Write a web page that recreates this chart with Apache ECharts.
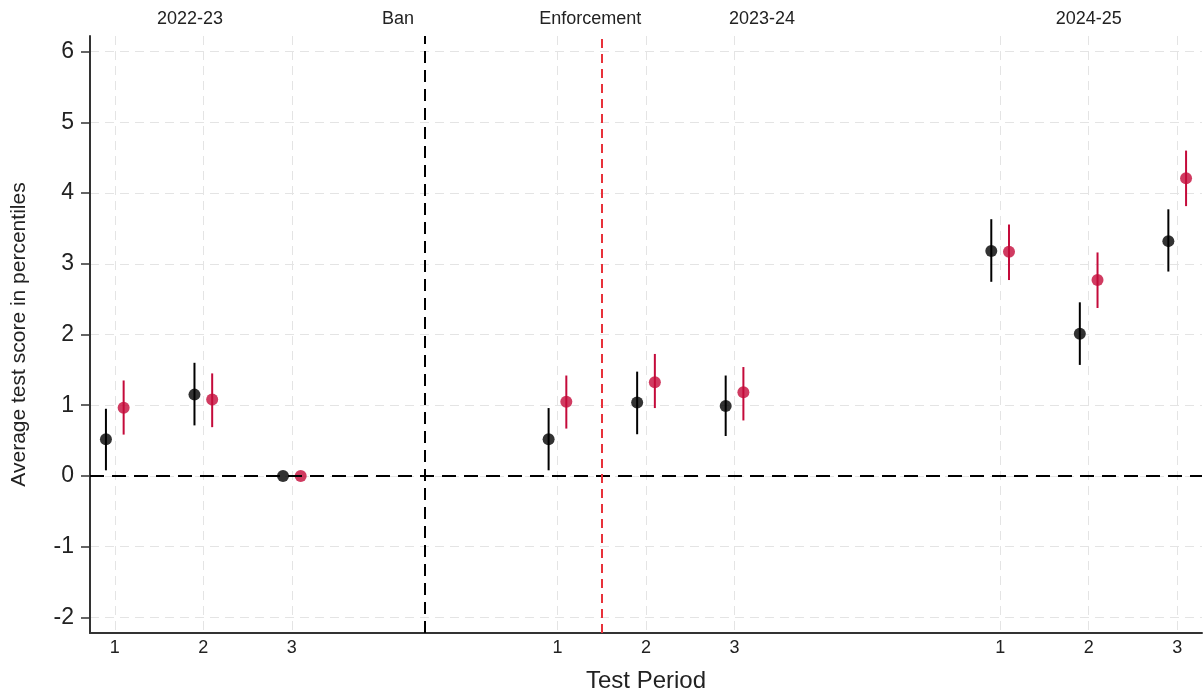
<!DOCTYPE html>
<html>
<head>
<meta charset="utf-8">
<script src="https://cdn.jsdelivr.net/npm/echarts@6/dist/echarts.min.js"></script>
<style>
  html, body { margin: 0; padding: 0; background: #fff; }
  #chart { width: 1203px; height: 698px; }
</style>
</head>
<body>
<div id="chart"></div>
<script>
// Test-period slots on the x axis (three periods per school year)
const periodPos = [1, 2, 3, 6, 7, 8, 11, 12, 13];
const periodLabels = ['1', '2', '3', '1', '2', '3', '1', '2', '3'];

// Black estimates with lower / upper confidence bounds
const blackEst = [0.52, 1.15, 0.00, 0.52, 1.04, 0.99, 3.18, 2.01, 3.32];
const blackLo  = [0.08, 0.715, null, 0.08, 0.59, 0.565, 2.745, 1.57, 2.89];
const blackHi  = [0.95, 1.60, null, 0.96, 1.475, 1.42, 3.63, 2.455, 3.77];

// Red estimates with lower / upper confidence bounds
const redEst = [0.965, 1.08, 0.00, 1.05, 1.325, 1.185, 3.17, 2.77, 4.21];
const redLo  = [0.585, 0.69, null, 0.67, 0.96, 0.785, 2.77, 2.375, 3.815];
const redHi  = [1.35, 1.45, null, 1.42, 1.725, 1.54, 3.555, 3.16, 4.60];

// Y axis ticks
const yTicks = [-2, -1, 0, 1, 2, 3, 4, 5, 6];

// Policy events: ban and enforcement
const banPos = 4.5;
const enforcementPos = 6.5;

// Labels along the top edge
const topLabelPos = [1.85, 4.2, 6.37, 8.31, 12.0];
const topLabelText = ['2022-23', 'Ban', 'Enforcement', '2023-24', '2024-25'];

const BLACK = '#000000';
const RED = '#C40A3A';
const FONT = '"Liberation Sans", Arial, Helvetica, sans-serif';
const SHIFT = 0.1;

function lookup(positions, labels) {
  return function (v) {
    for (let i = 0; i < positions.length; i++) {
      if (Math.abs(positions[i] - v) < 1e-6) return labels[i];
    }
    return '';
  };
}

function points(est, dx) {
  return est.map((v, i) => [periodPos[i] + dx, v]);
}

function bars(lo, hi, dx) {
  const out = [];
  lo.forEach((l, i) => {
    if (l !== null && hi[i] !== null) out.push([periodPos[i] + dx, l, hi[i]]);
  });
  return out;
}

function barRenderer(color) {
  return function (params, api) {
    const x = api.value(0);
    const a = api.coord([x, api.value(1)]);
    const b = api.coord([x, api.value(2)]);
    return {
      type: 'line',
      shape: { x1: a[0], y1: a[1], x2: b[0], y2: b[1] },
      style: { stroke: color, lineWidth: 2 }
    };
  };
}

const gridLine = { show: true, lineStyle: { color: '#e4e4e4', width: 1, type: [9, 6] } };

const chart = echarts.init(document.getElementById('chart'), null, { renderer: 'canvas' });

chart.setOption({
  animation: false,
  backgroundColor: '#ffffff',
  textStyle: { fontFamily: FONT },
  grid: { left: 90, right: 1, top: 36, bottom: 63, containLabel: false },
  xAxis: [
    {
      type: 'value',
      position: 'bottom',
      min: 0.72,
      max: 13.28,
      name: 'Test Period',
      nameLocation: 'middle',
      nameGap: 36,
      nameTextStyle: { fontSize: 24, color: '#222', fontFamily: FONT },
      axisLine: { show: true, onZero: false, lineStyle: { color: '#333', width: 2 } },
      axisTick: { show: false, customValues: periodPos },
      axisLabel: {
        customValues: periodPos,
        formatter: lookup(periodPos, periodLabels),
        fontSize: 18, color: '#222', margin: 6, fontFamily: FONT
      },
      splitLine: gridLine
    },
    {
      type: 'value',
      position: 'top',
      min: 0.72,
      max: 13.28,
      axisLine: { show: false, onZero: false },
      axisTick: { show: false, customValues: topLabelPos },
      axisLabel: {
        customValues: topLabelPos,
        formatter: lookup(topLabelPos, topLabelText),
        fontSize: 18, color: '#222', margin: 8, fontFamily: FONT
      },
      splitLine: { show: false }
    }
  ],
  yAxis: {
    type: 'value',
    min: -2.22,
    max: 6.22,
    name: 'Average test score in percentiles',
    nameLocation: 'middle',
    nameGap: 60,
    nameTextStyle: { fontSize: 21, color: '#222', fontFamily: FONT },
    axisLine: { show: true, onZero: false, lineStyle: { color: '#333', width: 2 } },
    axisTick: { show: true, customValues: yTicks, length: 9, lineStyle: { color: '#333', width: 1.5 } },
    axisLabel: {
      customValues: yTicks,
      fontSize: 23, color: '#222', margin: 16, fontFamily: FONT
    },
    splitLine: gridLine
  },
  series: [
    {
      type: 'custom',
      name: 'black-ci',
      renderItem: barRenderer(BLACK),
      encode: { x: 0, y: [1, 2] },
      data: bars(blackLo, blackHi, -SHIFT),
      z: 3,
      markLine: {
        silent: true,
        symbol: 'none',
        label: { show: false },
        data: [
          { yAxis: 0, lineStyle: { color: '#000', width: 2, type: [14, 8] } },
          { xAxis: banPos, lineStyle: { color: '#000', width: 2, type: [12, 7] } },
          { xAxis: enforcementPos, lineStyle: { color: '#E8313A', width: 2, type: [9, 6] } }
        ]
      }
    },
    {
      type: 'custom',
      name: 'red-ci',
      renderItem: barRenderer(RED),
      encode: { x: 0, y: [1, 2] },
      data: bars(redLo, redHi, SHIFT),
      z: 3
    },
    {
      type: 'scatter',
      name: 'black',
      data: points(blackEst, -SHIFT),
      symbol: 'circle',
      symbolSize: 12,
      itemStyle: { color: BLACK },
      z: 4
    },
    {
      type: 'scatter',
      name: 'red',
      data: points(redEst, SHIFT),
      symbol: 'circle',
      symbolSize: 12,
      itemStyle: { color: RED },
      z: 4
    }
  ]
});
</script>
</body>
</html>
